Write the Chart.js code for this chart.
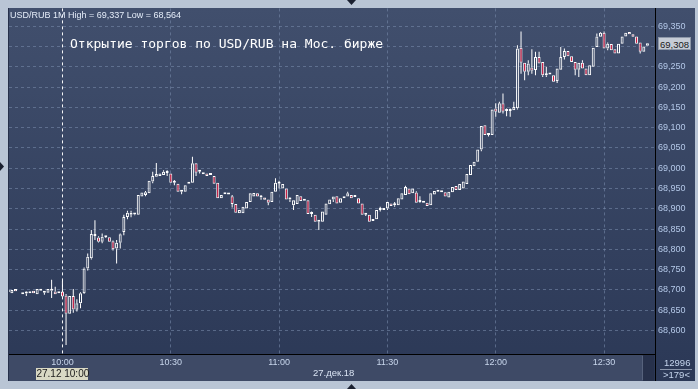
<!DOCTYPE html>
<html>
<head>
<meta charset="utf-8">
<script src="https://cdn.jsdelivr.net/npm/chart.js@4.4.1/dist/chart.umd.min.js"></script>
<style>
html, body { margin: 0; padding: 0; background: #b9c5d5; overflow: hidden; }
#wrap { position: relative; width: 698px; height: 389px; }
canvas { position: absolute; left: 0; top: 0; }
.t { position: absolute; white-space: nowrap; }
#hdr { left: 10px; top: 10px; font: 9px/10px "Liberation Sans", Arial, sans-serif; color: #e4ecf8; }
#title { left: 70px; top: 37px; font: 13px/13px "DejaVu Sans Mono", monospace; color: #ffffff; }
#day { left: 313px; top: 367px; font: 9.5px/11px "Liberation Sans", Arial, sans-serif; color: #d8e2f2; }
#cursor { top: 368px; width: 52px; height: 12px; background: #d9d9c4; color: #1a1a1a;
  font: 10px/12px "Liberation Sans", Arial, sans-serif; text-align: center; }
#last { left: 658px; width: 33px; height: 13px; background: #c6ccd6; color: #1a1a1a;
  font: 9.5px/13px "Liberation Sans", Arial, sans-serif; text-align: center; border: 1px solid #8d97a8; box-sizing: border-box; }
#cnt1 { left: 664px; top: 358px; font: 9.5px/10px "Liberation Sans", Arial, sans-serif; color: #c4d4ec; }
#cnt2 { left: 663px; top: 370px; font: 9.5px/10px "Liberation Sans", Arial, sans-serif; color: #c4d4ec; }
</style>
</head>
<body>
<div id="wrap">
  <canvas id="chart" width="698" height="389"></canvas>
  <div class="t" id="hdr"></div>
  <div class="t" id="title">Открытие торгов по USD/RUB на Мос. бирже</div>
  <div class="t" id="day">27.дек.18</div>
  <div class="t" id="cursor">27.12 10:00</div>
  <div class="t" id="last"></div>
  <div class="t" id="cnt1">12996</div>
  <div class="t" id="cnt2">&gt;179&lt;</div>
</div>
<script>
// minutes from 10:00, 27.12.18, 1-minute candles
const minutes = [
  -15, -14, -13, -11, -10, -9, -8, -7, -6, -5, -4, -3, -2, -1,
  0, 1, 2, 3, 4, 5, 6, 7, 8, 9,
  10, 11, 12, 13, 14, 15, 16, 17, 18, 19,
  20, 21, 22, 23, 24, 25, 26, 27, 28, 29,
  30, 31, 32, 33, 34, 35, 36, 37, 38, 39,
  40, 41, 42, 43, 44, 45, 46, 47, 48, 49,
  50, 51, 52, 53, 54, 55, 56, 57, 58, 59,
  60, 61, 62, 63, 64, 65, 66, 67, 68, 69,
  70, 71, 72, 73, 74, 75, 76, 77, 78, 79,
  80, 81, 82, 83, 84, 85, 86, 87, 88, 89,
  90, 91, 92, 93, 94, 95, 96, 97, 98, 99,
  100, 101, 102, 103, 104, 105, 106, 107, 108, 109,
  110, 111, 112, 113, 114, 115, 116, 117, 118, 119,
  120, 121, 122, 123, 124, 125, 126, 127, 128, 129,
  130, 131, 132, 133, 134, 135, 136, 137, 138, 139,
  140, 141, 142, 143, 144, 145, 146, 147, 148, 149,
  150, 151, 152, 153, 154, 155, 156, 157, 158, 159,
  160, 161, 162
];

const opens = [
  68.695, 68.692, 68.702, 68.689, 68.691, 68.692, 68.698, 68.689, 68.698, 68.693, 68.693, 68.698, 68.696, 68.692,
  68.696, 68.686, 68.641, 68.685, 68.651, 68.667, 68.692, 68.753, 68.778, 68.833,
  68.829, 68.819, 68.830, 68.830, 68.820, 68.802, 68.816, 68.843, 68.880, 68.890,
  68.886, 68.885, 68.930, 68.934, 68.938, 68.967, 68.979, 68.981, 68.983, 68.988,
  68.987, 68.964, 68.962, 68.942, 68.942, 68.962, 68.964, 69.012, 68.991, 68.990,
  68.987, 68.983, 68.981, 68.964, 68.926, 68.936, 68.935, 68.931, 68.912, 68.889,
  68.889, 68.901, 68.917, 68.930, 68.938, 68.928, 68.928, 68.923, 68.917, 68.942,
  68.962, 68.950, 68.950, 68.923, 68.909, 68.912, 68.931, 68.920, 68.921, 68.887,
  68.885, 68.868, 68.868, 68.885, 68.911, 68.923, 68.931, 68.915, 68.926, 68.930,
  68.934, 68.929, 68.926, 68.913, 68.885, 68.885, 68.870, 68.874, 68.897, 68.897,
  68.901, 68.913, 68.909, 68.909, 68.923, 68.934, 68.950, 68.938, 68.940, 68.917,
  68.920, 68.915, 68.909, 68.935, 68.942, 68.941, 68.941, 68.928, 68.941, 68.956,
  68.946, 68.950, 68.961, 68.983, 69.005, 69.016, 69.046, 69.106, 69.082, 69.082,
  69.147, 69.137, 69.160, 69.141, 69.141, 69.143, 69.148, 69.297, 69.260, 69.238,
  69.248, 69.242, 69.274, 69.262, 69.229, 69.231, 69.229, 69.215, 69.243, 69.274,
  69.289, 69.276, 69.262, 69.243, 69.260, 69.246, 69.229, 69.250, 69.299, 69.324,
  69.334, 69.295, 69.306, 69.293, 69.283, 69.307, 69.325, 69.336, 69.330, 69.325,
  69.310, 69.287, 69.302
];

const highs = [
  68.697, 68.701, 68.703, 68.691, 68.696, 68.693, 68.699, 68.703, 68.699, 68.696, 68.703, 68.725, 68.708, 68.697,
  68.723, 68.690, 68.686, 68.702, 68.677, 68.694, 68.755, 68.790, 68.848, 68.872,
  68.832, 68.839, 68.832, 68.831, 68.822, 68.823, 68.839, 68.885, 68.895, 68.895,
  68.888, 68.935, 68.941, 68.944, 68.970, 68.991, 69.013, 68.988, 68.995, 68.995,
  68.988, 68.971, 68.963, 68.946, 68.959, 68.967, 69.028, 69.013, 68.995, 68.991,
  68.988, 68.984, 68.982, 68.965, 68.935, 68.937, 68.936, 68.934, 68.913, 68.898,
  68.906, 68.918, 68.939, 68.940, 68.939, 68.934, 68.929, 68.924, 68.943, 68.975,
  68.969, 68.962, 68.951, 68.928, 68.922, 68.935, 68.932, 68.921, 68.922, 68.893,
  68.886, 68.872, 68.894, 68.914, 68.924, 68.931, 68.932, 68.927, 68.932, 68.942,
  68.935, 68.930, 68.927, 68.914, 68.889, 68.886, 68.871, 68.898, 68.905, 68.898,
  68.918, 68.914, 68.917, 68.927, 68.939, 68.957, 68.951, 68.951, 68.943, 68.931,
  68.921, 68.916, 68.939, 68.945, 68.946, 68.942, 68.942, 68.943, 68.955, 68.957,
  68.962, 68.968, 68.987, 69.009, 69.017, 69.047, 69.105, 69.107, 69.087, 69.146,
  69.160, 69.164, 69.184, 69.147, 69.147, 69.164, 69.303, 69.337, 69.261, 69.266,
  69.293, 69.287, 69.287, 69.263, 69.250, 69.232, 69.230, 69.247, 69.299, 69.295,
  69.290, 69.277, 69.263, 69.261, 69.266, 69.247, 69.255, 69.298, 69.332, 69.336,
  69.337, 69.310, 69.307, 69.294, 69.308, 69.326, 69.335, 69.337, 69.331, 69.326,
  69.311, 69.301, 69.309
];

const lows = [
  68.695, 68.691, 68.696, 68.689, 68.685, 68.691, 68.691, 68.688, 68.697, 68.688, 68.692, 68.680, 68.688, 68.691,
  68.682, 68.564, 68.640, 68.644, 68.647, 68.655, 68.690, 68.748, 68.775, 68.823,
  68.817, 68.815, 68.828, 68.818, 68.797, 68.765, 68.802, 68.835, 68.874, 68.879,
  68.884, 68.884, 68.929, 68.931, 68.937, 68.963, 68.978, 68.980, 68.982, 68.981,
  68.963, 68.958, 68.941, 68.936, 68.941, 68.961, 68.963, 68.981, 68.987, 68.984,
  68.980, 68.982, 68.961, 68.925, 68.925, 68.935, 68.934, 68.903, 68.889, 68.888,
  68.888, 68.900, 68.916, 68.929, 68.929, 68.922, 68.921, 68.909, 68.916, 68.941,
  68.950, 68.949, 68.922, 68.917, 68.897, 68.911, 68.918, 68.919, 68.886, 68.880,
  68.867, 68.848, 68.867, 68.884, 68.910, 68.917, 68.912, 68.914, 68.925, 68.929,
  68.925, 68.928, 68.912, 68.884, 68.882, 68.867, 68.869, 68.873, 68.893, 68.896,
  68.897, 68.906, 68.905, 68.908, 68.922, 68.933, 68.935, 68.937, 68.914, 68.915,
  68.914, 68.906, 68.908, 68.934, 68.941, 68.940, 68.929, 68.927, 68.940, 68.945,
  68.945, 68.949, 68.960, 68.982, 69.004, 69.015, 69.042, 69.081, 69.078, 69.081,
  69.127, 69.136, 69.135, 69.128, 69.127, 69.142, 69.145, 69.233, 69.217, 69.229,
  69.233, 69.229, 69.257, 69.225, 69.225, 69.230, 69.212, 69.210, 69.242, 69.268,
  69.275, 69.261, 69.229, 69.225, 69.245, 69.228, 69.228, 69.249, 69.298, 69.323,
  69.294, 69.291, 69.290, 69.282, 69.282, 69.306, 69.324, 69.329, 69.323, 69.306,
  69.283, 69.286, 69.301
];

const closes = [
  68.697, 68.700, 68.697, 68.690, 68.692, 68.692, 68.692, 68.702, 68.698, 68.694, 68.702, 68.702, 68.689, 68.696,
  68.684, 68.641, 68.685, 68.652, 68.667, 68.692, 68.753, 68.782, 68.838, 68.834,
  68.819, 68.831, 68.830, 68.819, 68.800, 68.816, 68.837, 68.880, 68.890, 68.885,
  68.887, 68.934, 68.940, 68.941, 68.969, 68.981, 68.986, 68.987, 68.991, 68.989,
  68.964, 68.965, 68.942, 68.943, 68.958, 68.966, 69.012, 68.989, 68.992, 68.985,
  68.981, 68.983, 68.962, 68.926, 68.934, 68.936, 68.935, 68.912, 68.890, 68.897,
  68.905, 68.917, 68.938, 68.939, 68.930, 68.929, 68.922, 68.915, 68.942, 68.964,
  68.963, 68.961, 68.923, 68.924, 68.921, 68.934, 68.919, 68.920, 68.887, 68.888,
  68.868, 68.869, 68.893, 68.913, 68.923, 68.930, 68.913, 68.926, 68.931, 68.938,
  68.926, 68.929, 68.913, 68.885, 68.886, 68.868, 68.870, 68.897, 68.898, 68.897,
  68.917, 68.907, 68.910, 68.926, 68.938, 68.954, 68.936, 68.950, 68.915, 68.918,
  68.915, 68.907, 68.938, 68.944, 68.943, 68.941, 68.930, 68.942, 68.954, 68.946,
  68.961, 68.967, 68.986, 69.008, 69.016, 69.046, 69.104, 69.082, 69.083, 69.145,
  69.139, 69.160, 69.139, 69.142, 69.142, 69.151, 69.295, 69.260, 69.238, 69.258,
  69.240, 69.274, 69.258, 69.229, 69.230, 69.231, 69.213, 69.246, 69.274, 69.289,
  69.276, 69.262, 69.243, 69.260, 69.246, 69.229, 69.254, 69.297, 69.325, 69.334,
  69.295, 69.307, 69.291, 69.283, 69.307, 69.325, 69.334, 69.330, 69.324, 69.307,
  69.287, 69.300, 69.308
];

// axis ticks
const yTicks = [68.60, 68.65, 68.70, 68.75, 68.80, 68.85, 68.90, 68.95, 69.00, 69.05, 69.10, 69.15, 69.20, 69.25, 69.30, 69.35];
const xTicks = [0, 30, 60, 90, 120, 150];
const xTickLabels = ['10:00', '10:30', '11:00', '11:30', '12:00', '12:30'];

[opens, highs, lows, closes].forEach(a => {
    if (a.length !== minutes.length) throw new Error('length mismatch ' + a.length);
});

const fmt = v => v.toFixed(3).replace('.', ',');
const RED = '#e0143c';

// candle bodies and wicks as floating bars
const bodies = minutes.map((m, i) => ({ x: m, y: [opens[i], closes[i]] }));
const bodyColors = minutes.map((m, i) => closes[i] < opens[i] ? RED : 'rgba(0,0,0,0)');
const upperWicks = [];
const lowerWicks = [];
minutes.forEach((m, i) => {
    const top = Math.max(opens[i], closes[i]);
    const bot = Math.min(opens[i], closes[i]);
    if (highs[i] - top > 0.0015) upperWicks.push({ x: m, y: [top, highs[i]] });
    if (bot - lows[i] > 0.0015) lowerWicks.push({ x: m, y: [lows[i], bot] });
});

const framePlugin = {
    id: 'frame',
    beforeDraw(chart) {
        const c = chart.ctx, a = chart.chartArea;
        c.save();
        c.fillStyle = '#b9c5d5';
        c.fillRect(0, 0, 698, 389);
        const g = c.createLinearGradient(0, 8, 0, 381);
        g.addColorStop(0, '#414f6d');
        g.addColorStop(1, '#2b3856');
        c.fillStyle = g;
        c.fillRect(8, 8, 687, 373);
        c.fillStyle = '#26304a';
        c.fillRect(8, 8, 1, 373);
        // time band
        c.fillStyle = '#3e4a66';
        c.fillRect(9, a.bottom, 634, 381 - a.bottom);
        c.fillStyle = '#27314b';
        c.fillRect(643, a.bottom + 1, 11, 381 - a.bottom - 1);
        c.fillStyle = '#56627c';
        c.fillRect(642, a.bottom + 2, 1, 381 - a.bottom - 3);
        c.restore();
    },
    afterDraw(chart) {
        const c = chart.ctx, a = chart.chartArea;
        c.save();
        c.fillStyle = '#000000';
        c.fillRect(a.right, 8, 1, 373);
        c.fillRect(9, a.bottom, a.right - 9, 1);
        // counter separator
        c.fillStyle = '#8a96ac';
        c.fillRect(660, 369, 32, 1);
        // little markers on the frame
        c.fillStyle = '#1a2030';
        c.beginPath(); c.moveTo(347, 0); c.lineTo(356, 0); c.lineTo(351.5, 5); c.fill();
        c.beginPath(); c.moveTo(347, 389); c.lineTo(356, 389); c.lineTo(351.5, 384); c.fill();
        c.beginPath(); c.moveTo(0, 162); c.lineTo(0, 171); c.lineTo(4, 166.5); c.fill();
        c.restore();
    }
};

function initChart() {
    const ctx = document.getElementById('chart').getContext('2d');
    const chart = new Chart(ctx, {
        type: 'bar',
        data: {
            datasets: [
                {
                    label: 'body',
                    data: bodies,
                    backgroundColor: bodyColors,
                    borderColor: '#ffffff',
                    borderWidth: 1,
                    borderSkipped: false,
                    barThickness: 3,
                    minBarLength: 2,
                    inflateAmount: 0,
                    grouped: false
                },
                {
                    label: 'upper',
                    data: upperWicks,
                    backgroundColor: '#ffffff',
                    borderWidth: 0,
                    barThickness: 1,
                    inflateAmount: 0,
                    grouped: false
                },
                {
                    label: 'lower',
                    data: lowerWicks,
                    backgroundColor: '#ffffff',
                    borderWidth: 0,
                    barThickness: 1,
                    inflateAmount: 0,
                    grouped: false
                }
            ]
        },
        options: {
            responsive: false,
            devicePixelRatio: 1,
            animation: false,
            events: [],
            layout: { padding: { left: 9, top: 8, right: 0, bottom: 0 } },
            plugins: { legend: { display: false }, tooltip: { enabled: false } },
            scales: {
                x: {
                    type: 'linear',
                    min: -14.8,
                    max: 164.1,
                    offset: false,
                    afterBuildTicks: s => { s.ticks = xTicks.map(v => ({ value: v })); },
                    afterFit: s => { s.height = 35; },
                    grid: {
                        offset: false,
                        drawTicks: false,
                        color: c => (c.tick && c.tick.value === 0) ? 'rgba(255,255,255,0.95)' : 'rgba(118,136,168,0.6)'
                    },
                    border: { display: false, dash: [3, 3] },
                    ticks: {
                        padding: 3,
                        maxRotation: 0,
                        autoSkip: false,
                        color: '#c8d6ec',
                        font: { family: 'Liberation Sans', size: 9 },
                        callback: v => xTickLabels[xTicks.indexOf(v)]
                    }
                },
                y: {
                    type: 'linear',
                    position: 'right',
                    min: 68.542,
                    max: 69.394,
                    afterBuildTicks: s => { s.ticks = yTicks.map(v => ({ value: v })); },
                    afterFit: s => { s.width = 43; },
                    grid: { drawTicks: false, color: 'rgba(118,136,168,0.6)' },
                    border: { display: false, dash: [3, 3] },
                    ticks: {
                        padding: 3,
                        color: '#b4c8e8',
                        font: { family: 'Liberation Sans', size: 9 },
                        callback: v => fmt(v)
                    }
                }
            }
        },
        plugins: [framePlugin]
    });

    // header and markers placed from the data and the scales
    document.getElementById('hdr').textContent =
        'USD/RUB 1M High = ' + fmt(Math.max(...highs)) + ' Low = ' + fmt(Math.min(...lows));
    const last = closes[closes.length - 1];
    const lastEl = document.getElementById('last');
    lastEl.textContent = fmt(last);
    lastEl.style.top = (chart.scales.y.getPixelForValue(last) - 6.5) + 'px';
    const cur = document.getElementById('cursor');
    cur.style.left = (chart.scales.x.getPixelForValue(0) - 26) + 'px';
}

window.onload = initChart;
</script>
</body>
</html>
